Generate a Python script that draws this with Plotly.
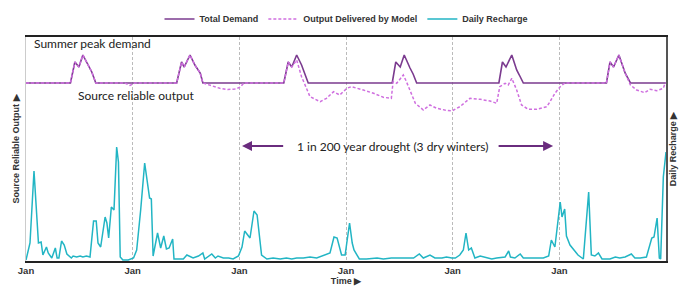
import plotly.graph_objects as go

# ---- data (x in months from first January, values in arbitrary units) ----
year_ticks = [0, 12, 24, 36, 48, 60]
tick_text = ["<b>Jan</b>", "<b>Jan</b>", "<b>Jan</b>", "<b>Jan</b>", "<b>Jan</b>", "<b>Jan</b>"]

demand_x = [0, 5.0, 5.5, 5.95, 6.4, 6.95, 7.4, 7.85,
            16.95, 17.5, 17.8, 18.45, 19.0, 19.6, 19.9,
            29.0, 29.5, 29.9, 30.45, 31.0, 31.3, 31.75,
            41.2, 41.6, 42.1, 42.55, 43.2, 43.55, 43.95,
            53.2, 53.6, 54.0, 54.65, 55.2, 55.5, 55.95,
            65.3, 65.7, 66.1, 66.7, 67.4, 68.0, 72]
demand_y = [178, 178, 199, 194, 206, 196, 189, 178,
            178, 199, 194, 206, 196, 188, 178,
            178, 199, 194, 206, 196, 189, 178,
            178, 199, 194, 206, 193, 187, 178,
            178, 199, 194, 206, 191, 186, 178,
            178, 199, 194, 206, 188, 178, 178]

output_x = [0, 5.0, 5.5, 5.95, 6.4, 6.95, 7.4, 7.85, 11.1, 11.7, 12.25,
            16.95, 17.5, 17.8, 18.45, 19.0, 19.6, 19.9,
            20.7, 21.8, 22.7, 23.5, 24.1, 24.5,
            29.0, 29.5, 29.9, 30.45, 31.0, 31.95, 33.1, 33.8, 34.6, 35.3, 36.1,
            36.6, 37.95, 39.1, 40.2, 41.1, 41.3, 41.7, 42.45, 42.8, 43.8, 44.7,
            45.45, 46.2, 47.1, 47.9, 48.8, 49.95, 51.1, 52.2, 52.95, 53.3, 53.9,
            54.25, 54.65, 55.2, 55.75, 56.5, 57.45, 58.6, 58.95, 59.5, 60.1, 60.6,
            65.3, 65.7, 66.1, 66.7, 67.4, 68.0, 68.7, 69.6, 70.2, 70.95, 71.7,
            71.9, 72]
output_y = [178, 178, 199, 194, 206, 196, 189, 178, 178, 175.5, 178,
            178, 199, 194, 206, 196, 188, 178,
            176, 172.7, 171.5, 172, 173.7, 178,
            178, 199, 194, 201, 184.3, 164.3, 159.3, 162.7, 169.3, 166, 172.7,
            174.3, 171, 167.7, 163.7, 162.7, 179.3, 177.7, 186, 179.3, 157.7, 151,
            156, 152.7, 151, 150, 154.3, 162.7, 161.7, 160, 157.7, 174.3, 177.7,
            176, 182.7, 171, 156, 151.7, 151.7, 154.3, 159.3, 167.7, 174.3, 178,
            178, 199, 194, 206, 188, 176, 171, 168.3, 171.7, 170.3, 172.7,
            178, 178]

recharge_x = [0.0, 0.45, 0.9, 1.1, 1.4, 1.7, 1.9, 2.3, 2.5, 2.9, 3.3, 3.5, 3.7, 4.0,
              4.3, 4.6, 4.9, 5.1, 5.3, 5.7, 6.1, 6.4, 6.8, 7.2, 7.6, 7.9, 8.1, 8.4,
              8.9, 9.1, 9.3, 9.6, 9.9, 10.2, 10.4, 10.6, 10.9, 11.5, 12.1, 12.45,
              12.9, 13.35, 13.9, 14.1, 14.3, 14.8, 15.15, 15.5, 15.8, 16.1, 16.5,
              16.65, 17.1, 17.7, 18.1, 18.8, 19.4, 19.9, 20.1, 20.9, 21.3, 21.6,
              22.2, 22.8, 23.3, 23.9, 24.3, 24.6, 25.2, 25.65, 26.0, 26.5, 27.1,
              27.8, 28.6, 29.3, 29.9, 30.45, 31.2, 31.95, 32.7, 33.6, 34.2, 34.65,
              35.0, 35.5, 35.9, 36.4, 36.7, 36.9, 37.2, 37.5, 38.3, 39.5, 40.2,
              41.1, 42.1, 42.8, 43.6, 44.25, 44.7, 45.45, 46.0, 46.8, 47.3, 47.9,
              48.3, 48.8, 49.2, 49.5, 49.8, 50.1, 50.5, 51.1, 51.8, 52.4, 52.95,
              53.5, 53.9, 54.3, 54.5, 55.0, 55.6, 55.95, 56.7, 57.45, 58.2, 58.8,
              59.1, 59.5, 60.1, 60.3, 60.6, 60.8, 61.2, 61.65, 62.1, 62.7, 63.3,
              63.6, 64.0, 64.4, 64.8, 65.7, 66.3, 66.8, 67.4, 68.1, 68.5, 69.1,
              69.8, 70.4, 70.65, 71.0, 71.25, 71.4, 71.7, 72.0]
recharge_y = [1, 18, 90, 64, 18, 19, 6, 14, 8, 3, 13, 3, 3, 20,
              16, 7, 5, 3, 5, 4, 5, 4, 5, 4, 40, 40, 18, 14,
              44, 38, 23, 54, 51, 114, 99, 4, 1, 1, 3, 11,
              51, 98, 63, 62, 5, 28, 13, 25, 12, 13, 22,
              2, 2, 2, 6, 3, 5, 8, 2, 7, 3, 5,
              3, 3, 2, 5, 14, 30, 23, 50, 46, 6, 2,
              3, 2, 3, 2, 3, 3, 4, 3, 6, 8, 24,
              23, 6, 6, 38, 18, 11, 6, 2, 2, 3, 2,
              3, 3, 3, 3, 7, 3, 6, 3, 3, 4, 3,
              3, 6, 11, 28, 11, 13, 3, 5, 3, 2, 3,
              4, 4, 10, 4, 3, 7, 3, 3, 3, 3, 5,
              21, 14, 59, 44, 52, 25, 16, 11, 6, 2, 69,
              6, 5, 8, 2, 2, 4, 3, 4, 7, 3, 3,
              4, 23, 24, 43, 3, 2, 84, 109]

# ---- figure ----
PURPLE = "#7B3B8F"
MAGENTA = "#CF6FDF"
CYAN = "#22B5C4"
ARROW = "#6A2C7E"

fig = go.Figure()
fig.add_trace(go.Scatter(x=demand_x, y=demand_y, mode="lines", name="<b>Total Demand</b>",
                         line=dict(color=PURPLE, width=1.6)))
fig.add_trace(go.Scatter(x=output_x, y=output_y, mode="lines", name="<b>Output Delivered by Model</b>",
                         line=dict(color=MAGENTA, width=1.5, dash="3px,2px")))
fig.add_trace(go.Scatter(x=recharge_x, y=recharge_y, mode="lines", name="<b>Daily Recharge</b>",
                         yaxis="y2", line=dict(color=CYAN, width=1.5)))

txt_font = dict(family="Lato, 'Open Sans', sans-serif", size=12, color="#222222")
fig.update_layout(
    width=688, height=287,
    margin=dict(l=26, r=22, t=37, b=26),
    paper_bgcolor="white", plot_bgcolor="white",
    font=dict(family="Arial, 'Liberation Sans', sans-serif", size=9, color="#333333"),
    showlegend=True,
    legend=dict(orientation="h", x=0.5, xanchor="center", xref="paper",
                y=0.934, yanchor="middle", yref="container",
                font=dict(size=9, color="#333333"), bgcolor="rgba(0,0,0,0)"),
    xaxis=dict(range=[0, 72], tickmode="array", tickvals=year_ticks, ticktext=tick_text,
               showgrid=True, gridcolor="#BBBBBB", griddash="3px,2px", gridwidth=1,
               showline=True, linecolor="#222222", linewidth=1.5, mirror=True,
               ticks="", zeroline=False, automargin=False,
               tickfont=dict(size=9.5, color="#333333"),
               title=dict(text="<b>Time ▶</b>", font=dict(size=9, color="#333333"), standoff=2)),
    yaxis=dict(range=[0, 224], showticklabels=False, showgrid=False, zeroline=False,
               showline=True, linecolor="#CCCCCC", linewidth=1, ticks="", automargin=False,
               title=dict(text="<b>Source Reliable Output ▶</b>", font=dict(size=9, color="#333333"), standoff=3)),
    yaxis2=dict(range=[0, 224], overlaying="y", side="right", showticklabels=False,
                showgrid=False, zeroline=False, showline=True, linecolor="#555555",
                linewidth=2, ticks="", automargin=False,
                title=dict(text="<b>Daily Recharge ▶</b>", font=dict(size=9, color="#333333"), standoff=3)),
    annotations=[
        dict(text="Summer peak demand", xref="paper", yref="paper", x=0.009, y=0.969,
             xanchor="left", yanchor="middle", showarrow=False, font=txt_font),
        dict(text="Source reliable output", xref="paper", yref="paper", x=0.078, y=0.741,
             xanchor="left", yanchor="middle", showarrow=False, font=txt_font),
        dict(text="1 in 200 year drought (3 dry winters)", xref="x", yref="paper", x=41.2, y=0.513,
             xanchor="center", yanchor="middle", showarrow=False, font=txt_font),
        dict(text="", xref="x", yref="paper", x=24.3, y=0.513, axref="x", ayref="pixel",
             ax=29.1, ay=0, showarrow=True, arrowhead=2, arrowsize=1, arrowwidth=2,
             arrowcolor=ARROW),
        dict(text="", xref="x", yref="paper", x=59.3, y=0.513, axref="x", ayref="pixel",
             ax=53.0, ay=0, showarrow=True, arrowhead=2, arrowsize=1, arrowwidth=2,
             arrowcolor=ARROW),
    ],
)

fig.write_html("out.html", config={"displayModeBar": False},
               post_script="document.body.style.margin='0';")
